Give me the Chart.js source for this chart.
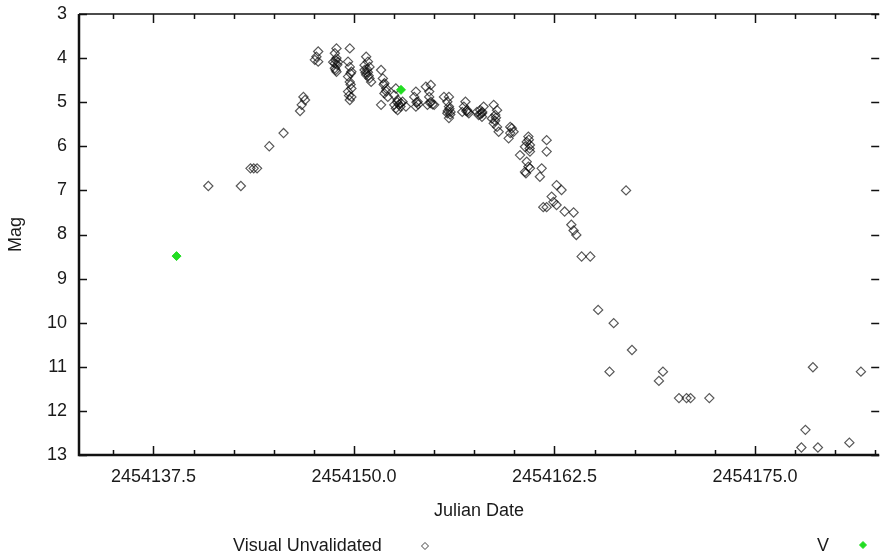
<!DOCTYPE html>
<html><head><meta charset="utf-8">
<script src="https://cdn.jsdelivr.net/npm/chart.js@4"></script>
<style>html,body{margin:0;padding:0;background:#fff}canvas{display:block}</style>
</head><body>
<canvas id="c" width="885" height="552"></canvas>
<script>
// Visual Unvalidated observations (Julian Date, magnitude)
const visualJD = [
2454140.92,2454142.95,2454143.55,2454143.75,2454143.96,2454144.72,2454145.61,2454146.64,2454146.74,2454146.85,2454146.95,
2454147.77,2454147.66,2454147.56,2454147.77,
2454148.91,2454148.81,2454148.91,2454148.81,2454148.81,2454148.91,2454149.01,2454148.70,2454148.86,2454148.96,2454148.86,
2454149.74,2454149.63,2454149.74,2454149.84,2454149.63,2454149.74,2454149.84,2454149.63,2454149.84,2454149.74,2454149.79,2454149.69,2454149.79,
2454150.76,2454150.87,2454150.97,2454150.66,2454150.76,2454150.97,2454151.07,2454150.66,2454150.87,2454150.82,2454150.92,2454150.72,
2454151.69,2454151.80,2454151.90,2454152.01,2454151.90,2454152.11,2454151.69,2454151.85,2454152.00,
2454152.61,2454152.51,2454152.72,2454152.51,2454152.61,2454152.72,2454152.93,2454153.03,2454153.24,2454152.80,2454152.90,2454152.70,
2454153.86,2454153.76,2454153.97,2454153.86,2454153.90,2454154.00,
2454154.48,2454154.79,2454154.69,2454154.69,2454154.79,2454155.00,2454154.58,2454154.75,2454154.90,
2454155.61,2454155.92,2454155.82,2454155.92,2454156.02,2454155.82,2454155.92,2454155.95,2454155.85,2454156.00,
2454156.95,2454156.85,2454157.06,2454157.16,2454156.75,2454157.00,2454157.10,
2454157.67,2454157.87,2454158.08,2454157.98,2454157.77,2454157.98,2454158.00,2454157.90,
2454158.71,2454158.92,2454158.81,2454158.60,2454158.71,2454158.92,2454159.02,2454158.85,2454158.80,
2454159.74,2454159.95,2454159.74,2454159.64,2454159.84,
2454160.87,2454160.77,2454160.97,2454160.66,2454160.97,2454160.35,2454160.77,2454160.87,2454160.97,2454160.66,2454160.72,2454160.90,2454160.95,
2454162.01,2454162.01,2454161.70,2454161.59,
2454162.63,2454162.94,2454162.32,2454162.43,2454162.63,2454161.80,2454162.01,
2454163.13,2454163.69,2454163.55,2454163.69,2454163.86,2454164.19,2454164.73,2454166.96,
2454165.22,2454166.19,2454165.93,2454167.33,2454169.26,2454169.01,
2454170.26,2454170.73,2454170.98,2454172.15,
2454178.61,2454178.14,2454177.89,2454178.92,2454180.88,2454181.60
];
const visualMag = [
6.9,6.9,6.5,6.5,6.5,6.0,5.7,5.2,5.06,4.88,4.95,
3.85,3.97,4.04,4.08,
3.78,3.89,4.0,4.12,4.23,4.31,4.09,4.09,4.05,4.15,4.27,
3.78,4.08,4.2,4.31,4.42,4.54,4.69,4.76,4.88,4.95,4.6,4.85,4.35,
3.97,4.08,4.2,4.27,4.38,4.46,4.54,4.16,4.32,4.25,4.4,4.33,
4.27,4.46,4.57,4.69,4.8,4.88,5.06,4.6,4.75,
4.69,4.84,4.95,5.06,5.14,5.18,5.02,4.99,5.1,5.05,5.1,5.0,
4.76,4.88,4.99,5.1,5.0,5.05,
4.65,4.61,4.76,4.88,4.99,5.06,5.06,5.02,5.05,
4.88,4.88,4.99,5.1,5.22,5.25,5.36,5.15,5.2,5.28,
4.99,5.1,5.18,5.25,5.22,5.2,5.22,
5.22,5.18,5.1,5.25,5.29,5.33,5.22,5.27,
5.06,5.18,5.29,5.37,5.48,5.56,5.67,5.35,5.42,
5.56,5.67,5.7,5.82,5.59,
5.78,5.9,5.97,6.01,6.12,6.2,6.35,6.46,6.5,6.58,6.61,5.85,6.05,
5.86,6.12,6.5,6.69,
6.88,6.99,7.14,7.26,7.33,7.38,7.38,
7.48,7.5,7.78,7.91,8.01,8.5,8.5,7.0,
9.71,10.01,11.11,10.62,11.11,11.32,
11.71,11.71,11.71,11.71,
11.01,12.43,12.83,12.83,12.72,11.11
];
// V band observations
const vJD = [2454138.94, 2454152.93];
const vMag = [8.49, 4.72];

const seriesNames = ['Visual Unvalidated', 'V'];
const xTickLabels = ['2454137.5', '2454150.0', '2454162.5', '2454175.0'];
const yTickValues = [3,4,5,6,7,8,9,10,11,12,13];

const FONT = '"Liberation Sans", Arial, Helvetica, sans-serif';
const TXT = '#1a1a1a';

const toPts = (xs, ys) => xs.map((x, i) => ({x, y: ys[i]}));

const axisPlugin = {
  id: 'gnuAxes',
  beforeDatasetsDraw(chart) {
    const {ctx, chartArea: a, scales: {x, y}} = chart;
    ctx.save();
    ctx.strokeStyle = '#111';
    ctx.lineWidth = 1.5;
    x.ticks.forEach(t => {
      const px = Math.round(x.getPixelForValue(t.value)) + 0.5;
      const major = xTickLabels.some(l => Math.abs(parseFloat(l) - t.value) < 1e-6);
      const len = major ? 9 : 5;
      ctx.beginPath();
      ctx.moveTo(px, a.bottom); ctx.lineTo(px, a.bottom - len);
      ctx.moveTo(px, a.top); ctx.lineTo(px, a.top + len);
      ctx.stroke();
    });
    y.ticks.forEach(t => {
      const py = Math.round(y.getPixelForValue(t.value)) + 0.5;
      ctx.beginPath();
      ctx.moveTo(a.left, py); ctx.lineTo(a.left + 8, py);
      ctx.moveTo(a.right, py); ctx.lineTo(a.right - 8, py);
      ctx.stroke();
    });
    ctx.lineWidth = 1.5;
    ctx.beginPath();
    ctx.moveTo(a.left, a.top); ctx.lineTo(a.right, a.top);
    ctx.stroke();
    ctx.lineWidth = 2.5;
    ctx.beginPath();
    ctx.moveTo(a.left, a.top); ctx.lineTo(a.left, a.bottom); ctx.lineTo(a.right, a.bottom);
    ctx.stroke();
    ctx.restore();
  }
};

const legendPlugin = {
  id: 'bottomLegend',
  afterDraw(chart) {
    const {ctx} = chart;
    const ds = chart.data.datasets;
    ctx.save();
    ctx.font = '18px ' + FONT;
    ctx.fillStyle = TXT;
    ctx.textBaseline = 'alphabetic';
    ctx.textAlign = 'left';
    ctx.fillText(ds[0].label, 233, 551);
    ctx.fillText(ds[1].label, 817, 551);
    ctx.lineWidth = 1;
    ctx.strokeStyle = 'rgba(20,20,20,0.8)';
    ctx.fillStyle = 'rgba(0,0,0,0)';
    Chart.helpers.drawPoint(ctx, {pointStyle: 'rectRot', radius: 3.5, borderWidth: 1, rotation: 0}, 425, 546);
    ctx.fillStyle = ds[1].backgroundColor;
    ctx.strokeStyle = ds[1].backgroundColor;
    Chart.helpers.drawPoint(ctx, {pointStyle: 'rectRot', radius: 3.5, borderWidth: 1, rotation: 0}, 863, 545);
    ctx.restore();
  }
};

new Chart(document.getElementById('c'), {
  type: 'scatter',
  data: {
    datasets: [
      {
        label: seriesNames[0],
        data: toPts(visualJD, visualMag),
        pointStyle: 'rectRot',
        radius: 4.6,
        borderWidth: 1.2,
        borderColor: 'rgba(10,10,10,0.68)',
        backgroundColor: 'rgba(255,255,255,0)',
        order: 2
      },
      {
        label: seriesNames[1],
        data: toPts(vJD, vMag),
        pointStyle: 'rectRot',
        radius: 4.5,
        borderWidth: 1,
        borderColor: '#22dd22',
        backgroundColor: '#22dd22',
        order: 1
      }
    ]
  },
  options: {
    responsive: false,
    animation: false,
    devicePixelRatio: 1,
    layout: {padding: {left: 0, right: 0, top: 14, bottom: 0}},
    plugins: {legend: {display: false}, tooltip: {enabled: false}},
    scales: {
      x: {
        type: 'linear',
        min: 2454132.86,
        max: 2454182.74,
        grid: {display: false, drawTicks: false},
        border: {display: false},
        ticks: {
          stepSize: 2.5,
          includeBounds: false,
          autoSkip: false,
          maxRotation: 0,
          padding: 11,
          color: TXT,
          font: {family: FONT, size: 18},
          callback: (v) => xTickLabels.find(l => Math.abs(parseFloat(l) - v) < 1e-6) || ''
        },
        title: {display: true, text: 'Julian Date', color: TXT, font: {family: FONT, size: 18}, padding: {top: 0, bottom: 30}},
        afterFit: (s) => { s.height = 97; s.paddingLeft = 0; s.paddingRight = 0; }
      },
      y: {
        type: 'linear',
        reverse: true,
        min: yTickValues[0],
        max: yTickValues[yTickValues.length - 1],
        grid: {display: false, drawTicks: false},
        border: {display: false},
        afterBuildTicks: (s) => { s.ticks = yTickValues.map(v => ({value: v})); },
        ticks: {
          padding: 12,
          color: TXT,
          font: {family: FONT, size: 18},
          callback: (v) => String(v)
        },
        title: {display: true, text: 'Mag', color: TXT, font: {family: FONT, size: 18}, padding: {top: 5, bottom: 0}},
        afterFit: (s) => { s.width = 79; s.paddingTop = 0; s.paddingBottom = 0; }
      }
    }
  },
  plugins: [axisPlugin, legendPlugin]
});
</script>
</body></html>
